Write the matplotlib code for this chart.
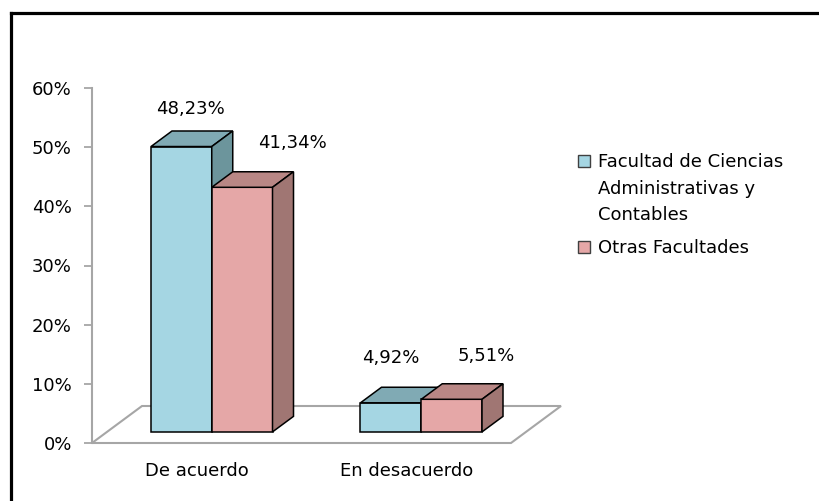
import matplotlib
matplotlib.use("Agg")
import matplotlib.pyplot as plt
import matplotlib.patches as patches
from matplotlib.lines import Line2D

# data
categories = ["De acuerdo", "En desacuerdo"]
series_names = ["Facultad de Ciencias\nAdministrativas y\nContables", "Otras Facultades"]
fcac_values = [48.23, 4.92]
otras_values = [41.34, 5.51]
y_ticks = [0, 10, 20, 30, 40, 50, 60]

# (front, top, side) colours for each series
series_colors = [("#A5D6E3", "#80AAB4", "#6C959C"),
                 ("#E5A7A7", "#B98785", "#A07673")]

# label nudges in pixels (right, up) from the centre of each bar top
label_shift_px = [[(-1, 30), (-11, 37)],
                  [(40, 37), (24, 36)]]

W, H = 820, 501
plt.rcParams['font.family'] = ['DejaVu Sans']
fig = plt.figure(figsize=(W / 100, H / 100), dpi=100)
fig.patch.set_facecolor("white")

ax = fig.add_axes([92 / W, 58 / H, 419 / W, 355 / H])
ax.set_xlim(-0.5, 1.5)
ax.set_ylim(0, 60)
ax.set_facecolor("none")

# depth vector of the floor (pixels) converted to data units
px_x = 419 / 2.0
px_y = 355 / 60.0
DX = 50 / px_x
DY = 37 / px_y


def P(x, v, d):
    return (x + d * DX, v + d * DY)


# floor
floor = patches.Polygon([P(-0.5, 0, 0), P(1.5, 0, 0), P(1.5, 0, 1), P(-0.5, 0, 1)],
                        closed=True, facecolor="white", edgecolor="#A6A6A6",
                        linewidth=1.5, clip_on=False, zorder=1)
ax.add_patch(floor)

bar_w = 0.29
d0, d1 = 0.3, 0.72
all_values = [fcac_values, otras_values]

for ci in range(len(categories)):
    for si, vals in enumerate(all_values):
        v = vals[ci]
        x0 = ci - bar_w + si * bar_w
        x1 = x0 + bar_w
        front_c, top_c, side_c = series_colors[si]
        faces = [
            ([P(x0, 0, d0), P(x1, 0, d0), P(x1, v, d0), P(x0, v, d0)], front_c),
            ([P(x0, v, d0), P(x1, v, d0), P(x1, v, d1), P(x0, v, d1)], top_c),
            ([P(x1, 0, d0), P(x1, 0, d1), P(x1, v, d1), P(x1, v, d0)], side_c),
        ]
        for pts, c in faces:
            ax.add_patch(patches.Polygon(pts, closed=True, facecolor=c, edgecolor="black",
                                         linewidth=1.1, joinstyle="miter",
                                         clip_on=False, zorder=3))
        cx, cy = P((x0 + x1) / 2, v, (d0 + d1) / 2)
        sx, sy = label_shift_px[si][ci]
        ax.annotate(f"{v:.2f}%".replace(".", ","), (cx, cy),
                    xytext=(sx * 0.72, sy * 0.72), textcoords="offset points",
                    ha="center", va="center", fontsize=13, color="black", zorder=5)

# axes styling
for s in ["top", "right", "bottom"]:
    ax.spines[s].set_visible(False)
ax.spines["left"].set_color("#A6A6A6")
ax.spines["left"].set_linewidth(1.5)
ax.spines["left"].set_zorder(2)
ax.set_yticks(y_ticks)
ax.set_yticklabels([f"{t}%" for t in y_ticks])
ax.tick_params(axis="y", length=5.5, width=1.3, color="#A6A6A6", pad=9,
               labelsize=13, labelcolor="black")
ax.set_xticks(range(len(categories)))
ax.set_xticklabels(categories)
ax.tick_params(axis="x", length=0, pad=14, labelsize=13, labelcolor="black")

# legend drawn by hand so the swatch sits beside the first line
legend_tops = [155, 241]
for si, name in enumerate(series_names):
    top = legend_tops[si]
    fig.patches.append(patches.Rectangle((578 / W, (H - top - 12) / H), 12 / W, 12 / H,
                                         transform=fig.transFigure, facecolor=series_colors[si][0],
                                         edgecolor="#404040", linewidth=1.0))
    fig.text(598 / W, (H - top + 2) / H, name, ha="left", va="top",
             fontsize=13, linespacing=1.62, color="black")

# outer frame (only left and top edges are visible)
fig.lines.append(Line2D([11 / W, 11 / W], [0, (H - 12.5) / H], transform=fig.transFigure,
                        color="black", linewidth=2.3, solid_capstyle="projecting"))
fig.lines.append(Line2D([11 / W, 1], [(H - 12.5) / H, (H - 12.5) / H], transform=fig.transFigure,
                        color="black", linewidth=2.3, solid_capstyle="projecting"))

fig.savefig("out.png", dpi=100)
